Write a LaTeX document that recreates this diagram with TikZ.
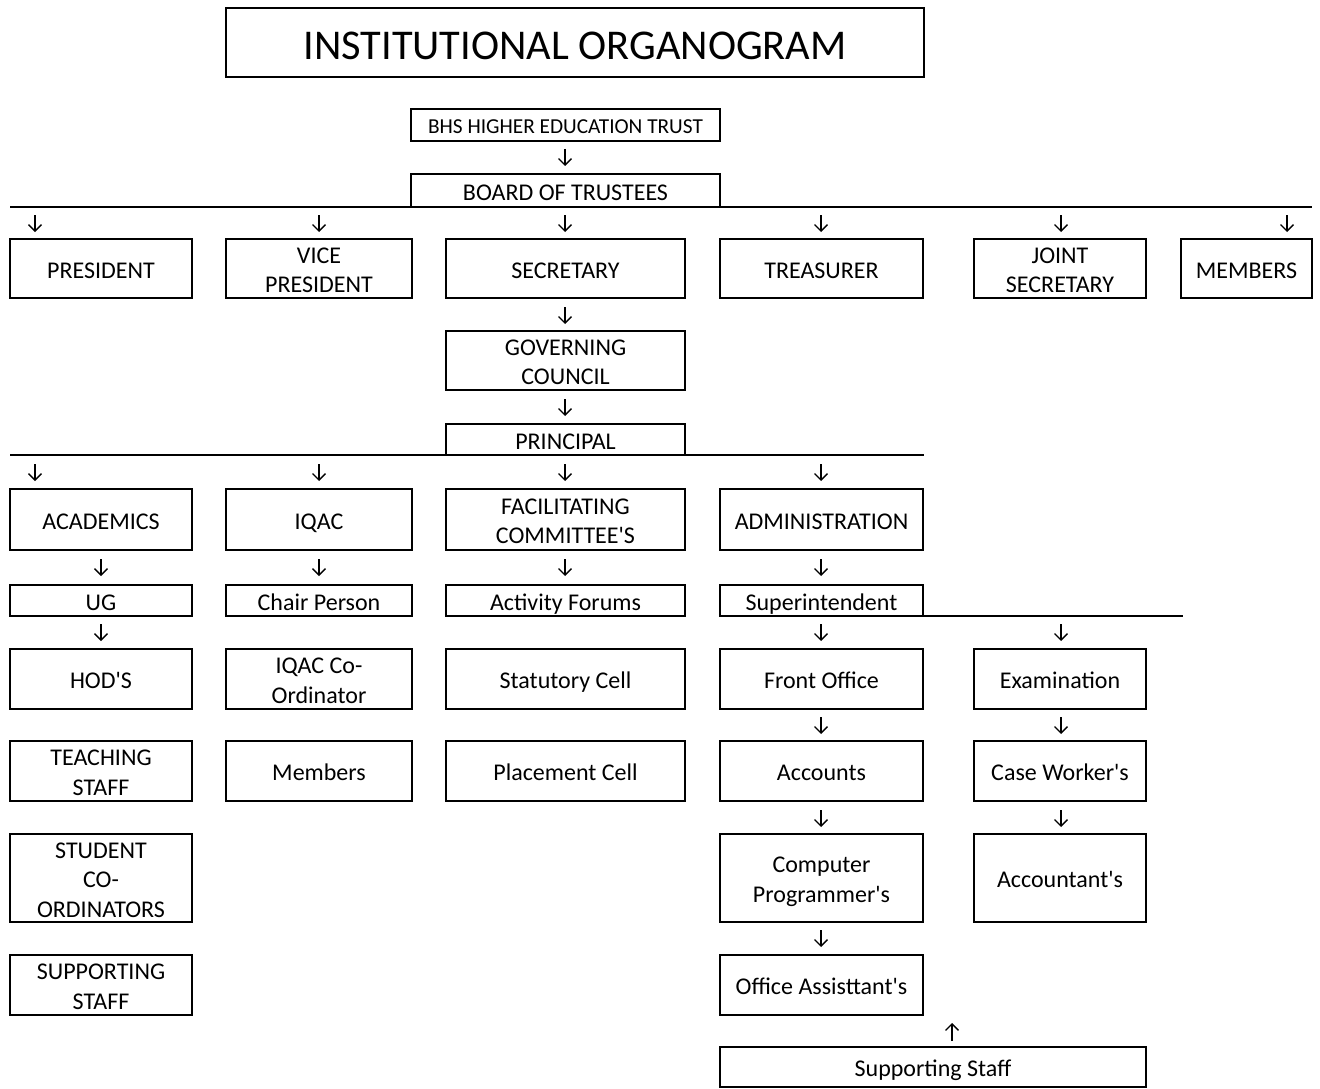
\documentclass[tikz,border=0pt]{standalone}
\usepackage{fontspec}
\setmainfont{Carlito}
\usetikzlibrary{arrows.meta}
\newcommand\q{\textquotesingle}
\newcommand\st{\rule[-0.2em]{0pt}{1.2em}}
\newcommand\nl{\st\\\st}
\newcommand\bx[6]{%
 \pgfmathsetmacro\myw{#4-#2}\pgfmathsetmacro\myh{#5-#3}%
 \node[box,minimum width=\myw pt,minimum height=\myh pt] (#1) at ({(#2+#4)/2},{(#3+#5)/2}) {\st#6\st};}
\newcommand\darr[3]{%
 \coordinate (#1a) at (#2,#3); \coordinate (#1b) at ({#2},{#3+17});
 \draw[arr] (#1a) -- (#1b);}
\begin{document}
\begin{tikzpicture}[x=1pt,y=-1pt,
 box/.style={draw,line width=2pt,inner sep=0pt,align=center,font=\fontsize{24}{29.5}\selectfont},
 arr/.style={line width=1.3pt,-{Straight Barb[length=6.5pt,width=13pt]}},
 hline/.style={line width=2pt}]
\useasboundingbox (0,0) rectangle (1320,1089);
% title
\node[box,minimum width=698pt,minimum height=69pt,font=\fontsize{42.4}{52}\selectfont] (title) at (575,42.5) {\st INSTITUTIONAL ORGANOGRAM\st};
% top
\node[box,minimum width=309pt,minimum height=32pt,font=\fontsize{21.3}{26}\selectfont] (bhs) at (565.5,125) {\st BHS HIGHER EDUCATION TRUST\st};
\darr{a1}{565}{149}
\bx{bot}{411}{174}{720}{207}{BOARD OF TRUSTEES}
\coordinate (h1l) at (10,207); \coordinate (h1r) at (1312,207);
\draw[hline] (h1l) -- (h1r);
% row 1
\darr{a2}{35}{215}\darr{a3}{319}{215}\darr{a4}{565}{215}\darr{a5}{821}{215}\darr{a6}{1061}{215}\darr{a7}{1287}{215}
\bx{pres}{10}{239}{192}{298}{PRESIDENT}
\bx{vp}{226}{239}{412}{298}{VICE\nl PRESIDENT}
\bx{sec}{446}{239}{685}{298}{SECRETARY}
\bx{tre}{720}{239}{923}{298}{TREASURER}
\bx{js}{974}{239}{1146}{298}{JOINT\nl SECRETARY}
\bx{mem}{1181}{239}{1312}{298}{MEMBERS}
\darr{a8}{565}{307}
\bx{gc}{446}{331}{685}{390}{GOVERNING\nl COUNCIL}
\darr{a9}{565}{399}
\bx{prin}{446}{424}{685}{455}{PRINCIPAL}
\coordinate (h2l) at (10,455); \coordinate (h2r) at (924,455);
\draw[hline] (h2l) -- (h2r);
% row 2
\darr{b1}{35}{464}\darr{b2}{319}{464}\darr{b3}{565}{464}\darr{b4}{821}{464}
\bx{acad}{10}{489}{192}{550}{ACADEMICS}
\bx{iqac}{226}{489}{412}{550}{IQAC}
\bx{fac}{446}{489}{685}{550}{FACILITATING\nl COMMITTEE\q S}
\bx{adm}{720}{489}{923}{550}{ADMINISTRATION}
\darr{c1}{101}{559}\darr{c2}{319}{559}\darr{c3}{565}{559}\darr{c4}{821}{559}
% row 3
\bx{ug}{10}{585}{192}{616}{UG}
\bx{chair}{226}{585}{412}{616}{Chair Person}
\bx{act}{446}{585}{685}{616}{Activity Forums}
\bx{sup}{720}{585}{923}{616}{Superintendent}
\coordinate (h3l) at (923,616); \coordinate (h3r) at (1183,616);
\draw[hline] (h3l) -- (h3r);
\darr{d1}{101}{624}\darr{d2}{821}{624}\darr{d3}{1061}{624}
% row 4
\bx{hod}{10}{649}{192}{709}{HOD\q S}
\bx{iqc}{226}{649}{412}{709}{IQAC Co-\nl Ordinator}
\bx{stat}{446}{649}{685}{709}{Statutory Cell}
\bx{fo}{720}{649}{923}{709}{Front Office}
\bx{exam}{974}{649}{1146}{709}{Examination}
\darr{e1}{821}{717}\darr{e2}{1061}{717}
% row 5
\bx{ts}{10}{741}{192}{801}{TEACHING\nl STAFF}
\bx{imem}{226}{741}{412}{801}{Members}
\bx{plc}{446}{741}{685}{801}{Placement Cell}
\bx{acc}{720}{741}{923}{801}{Accounts}
\bx{cw}{974}{741}{1146}{801}{Case Worker\q s}
\darr{f1}{821}{810}\darr{f2}{1061}{810}
% row 6
\bx{sc}{10}{834}{192}{922}{STUDENT\nl CO-\nl ORDINATORS}
\bx{cp}{720}{834}{923}{922}{Computer\nl Programmer\q s}
\bx{acct}{974}{834}{1146}{922}{Accountant\q s}
\darr{g1}{821}{930}
% row 7
\bx{ss}{10}{955}{192}{1015}{SUPPORTING\nl STAFF}
\bx{oa}{720}{955}{923}{1015}{Office Assisttant\q s}
\coordinate (u1a) at (952,1041); \coordinate (u1b) at (952,1023);
\draw[arr] (u1a) -- (u1b);
\bx{sst}{720}{1047}{1146}{1087}{Supporting Staff}
\end{tikzpicture}
\end{document}
